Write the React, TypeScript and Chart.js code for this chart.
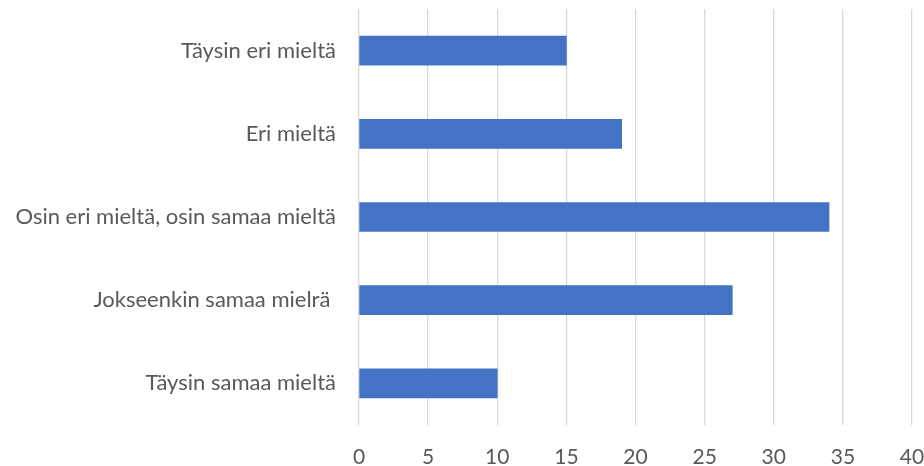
import React, { useEffect, useRef } from "react";
import { Chart, registerables } from "chart.js";

Chart.register(...registerables);

const categories = [
  "Täysin eri mieltä",
  "Eri mieltä",
  "Osin eri mieltä, osin samaa mieltä",
  "Jokseenkin samaa mielrä ",
  "Täysin samaa mieltä",
];
const values = [15, 19, 34, 27, 10];
const xMin = 0;
const xMax = 40;
const xStep = 5;

export default function App() {
  const ref = useRef<HTMLCanvasElement | null>(null);
  useEffect(() => {
    document.body.style.margin = "0";
    const ctx = ref.current!;
    const font = { family: "Lato, 'Open Sans', sans-serif", size: 22 };
    const chart = new Chart(ctx, {
      type: "bar",
      data: {
        labels: categories,
        datasets: [
          {
            data: values,
            backgroundColor: "#4472C4",
            barThickness: 29,
          },
        ],
      },
      options: {
        indexAxis: "y",
        animation: false,
        responsive: false,
        maintainAspectRatio: false,
        layout: { padding: { top: 9, right: 12, left: 0, bottom: 0 } },
        plugins: { legend: { display: false }, tooltip: { enabled: false } },
        scales: {
          x: {
            min: xMin,
            max: xMax,
            ticks: { stepSize: xStep, color: "#595959", font: { ...font, size: 21 }, padding: 20 },
            grid: { color: "#d9d9d9", lineWidth: 1.3, drawTicks: false },
            border: { display: false },
            afterFit: (s: any) => {
              s.height = 41;
              s.paddingLeft = 0;
              s.paddingRight = 0;
            },
          },
          y: {
            ticks: { color: "#595959", font, padding: 23 },
            grid: { display: false, drawTicks: false },
            border: { display: false },
            afterFit: (s: any) => {
              s.width = 359;
              s.paddingTop = 0;
              s.paddingBottom = 0;
            },
          },
        },
      },
    });
    return () => chart.destroy();
  }, []);
  return (
    <div style={{ position: "absolute", left: 0, top: 0, width: 924, height: 466, background: "#fff" }}>
      <canvas ref={ref} width={924} height={466} style={{ width: 924, height: 466 }} />
    </div>
  );
}
